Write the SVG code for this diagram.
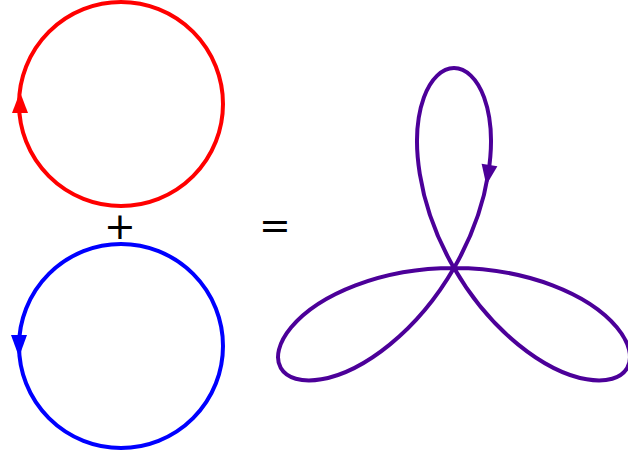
<svg xmlns="http://www.w3.org/2000/svg" width="628" height="456" viewBox="0 0 628 456">
<style>
.ring{fill:none;stroke-width:4}
.sym{font-family:"DejaVu Sans",sans-serif;font-size:38px;fill:#000;text-anchor:middle}
</style>
<rect width="628" height="456" fill="#fff"/>
<g id="red-circle">
<circle class="ring" cx="121" cy="104" r="102" stroke="#ff0000"/>
<polygon points="20,92 12,113 28,113" fill="#ff0000"/>
</g>
<g id="blue-circle">
<circle class="ring" cx="121" cy="346" r="102" stroke="#0000ff"/>
<polygon points="19,357 11,335 27,335" fill="#0000ff"/>
</g>
<g id="plus"><text class="sym" x="120" y="239">+</text></g>
<g id="equals"><text class="sym" x="275" y="238">=</text></g>
<g id="trefoil">
<path class="ring" stroke="#4c0099" stroke-linejoin="round" d="M454,268 C488.91,268 523.72,274.38 552.48,285.36 C581.24,296.34 603.81,311.80 616.76,327.24 C629.71,342.68 633.03,357.92 627.21,368 C621.39,378.08 606.53,382.83 586.68,379.33 C566.83,375.83 542.17,364.02 518.28,344.60 C494.39,325.18 471.45,298.23 454,268 C436.55,237.77 424.67,204.43 419.80,174.03 C414.93,143.63 417.03,116.37 423.92,97.43 C430.81,78.49 442.36,68 454,68 C465.64,68 477.19,78.49 484.08,97.43 C490.97,116.37 493.07,143.63 488.20,174.03 C483.33,204.43 471.45,237.77 454,268 C436.55,298.23 413.61,325.18 389.72,344.60 C365.83,364.02 341.17,375.83 321.32,379.33 C301.47,382.83 286.61,378.08 280.79,368 C274.97,357.92 278.29,342.68 291.24,327.24 C304.19,311.80 326.76,296.34 355.52,285.36 C384.28,274.38 419.09,268 454,268 Z"/>
<polygon points="486.3,185 497.4,166.3 481.6,163.7" fill="#4c0099"/>
</g>
</svg>
